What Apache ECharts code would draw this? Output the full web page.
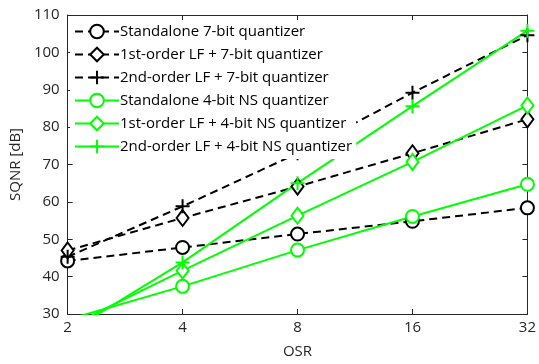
<!DOCTYPE html>
<html>
<head>
<meta charset="utf-8">
<script src="https://cdn.jsdelivr.net/npm/echarts@6/dist/echarts.min.js"></script>
<style>html,body{margin:0;padding:0;background:#fff;}#c{width:539px;height:364px;}</style>
</head>
<body>
<div id="c"></div>
<script>
var osr = [2, 4, 8, 16, 32];
var standalone7 = [44.2, 47.8, 51.4, 54.8, 58.4];
var lf1q7 = [47.0, 55.7, 64.1, 73.0, 82.1];
var lf2q7 = [45.3, 58.8, 73.0, 89.2, 104.6];
var standalone4 = [28.5, 37.4, 47.1, 56.1, 64.7];
var lf1q4 = [26.5, 41.6, 56.3, 70.7, 85.8];
var lf2q4 = [25.0, 43.8, 65.0, 85.6, 105.8];
var names = ['Standalone 7-bit quantizer', '1st-order LF + 7-bit quantizer', '2nd-order LF + 7-bit quantizer',
             'Standalone 4-bit NS quantizer', '1st-order LF + 4-bit NS quantizer', '2nd-order LF + 4-bit NS quantizer'];
var yTicks = [30, 110, 10];

var plusPath = 'path://M6,0 h2 v6 h6 v2 h-6 v6 h-2 v-6 h-6 v-2 h6 z';
function pts(arr) { return osr.map(function (x, i) { return [x, arr[i]]; }); }
function mk(name, arr, color, dashed, symbol, size) {
  var isPath = symbol.indexOf('path') === 0;
  return {
    name: name, type: 'line', data: pts(arr), symbol: symbol, symbolSize: size,
    showAllSymbol: true,
    lineStyle: { color: color, width: 2, type: dashed ? [8, 5] : 'solid' },
    itemStyle: isPath ? { color: color, borderWidth: 0 } : { color: color, borderColor: color, borderWidth: 1.8 },
    emphasis: { disabled: true }, animation: false, clip: true
  };
}
var axCol = '#262626';
var font = 'Open Sans';
var chart = echarts.init(document.getElementById('c'), null, { renderer: 'canvas' });
chart.setOption({
  animation: false,
  grid: { left: 66, right: 6, top: 15, bottom: 47 },
  xAxis: [{
    type: 'log', logBase: 2, min: 2, max: 32,
    name: 'OSR', nameLocation: 'middle', nameGap: 30,
    nameTextStyle: { color: axCol, fontSize: 15, fontFamily: font },
    axisLine: { lineStyle: { color: axCol, width: 1 } },
    axisTick: { inside: true, length: 5, lineStyle: { color: axCol } },
    axisLabel: { color: axCol, fontSize: 15, fontFamily: font, margin: 6 },
    splitLine: { show: false }, minorTick: { show: false }
  }, {
    type: 'log', logBase: 2, min: 2, max: 32, position: 'top',
    axisLine: { lineStyle: { color: axCol, width: 1 } },
    axisTick: { inside: true, length: 5, lineStyle: { color: axCol } },
    axisLabel: { show: false }, splitLine: { show: false }
  }],
  yAxis: [{
    type: 'value', min: yTicks[0], max: yTicks[1], interval: yTicks[2],
    name: 'SQNR [dB]', nameLocation: 'middle', nameGap: 42,
    nameTextStyle: { color: axCol, fontSize: 15, fontFamily: font },
    axisLine: { show: true, lineStyle: { color: axCol, width: 1 } },
    axisTick: { show: true, inside: true, length: 5, lineStyle: { color: axCol } },
    axisLabel: { color: axCol, fontSize: 15, fontFamily: font, margin: 8 },
    splitLine: { show: false }
  }, {
    type: 'value', min: yTicks[0], max: yTicks[1], interval: yTicks[2], position: 'right',
    axisLine: { show: true, lineStyle: { color: axCol, width: 1 } },
    axisTick: { show: true, inside: true, length: 5, lineStyle: { color: axCol } },
    axisLabel: { show: false }, splitLine: { show: false }
  }],
  legend: {
    orient: 'vertical', left: 70, top: 21, itemWidth: 44, itemHeight: 17, itemGap: 6,
    backgroundColor: '#fff', padding: [2, 4, 4, 4],
    textStyle: { color: '#000', fontSize: 15, fontFamily: font, padding: [0, 0, 0, -4], lineHeight: 17 },
    data: names
  },
  series: [
    mk(names[0], standalone7, '#000', true, 'emptyCircle', 13),
    mk(names[1], lf1q7, '#000', true, 'emptyDiamond', [12, 16]),
    mk(names[2], lf2q7, '#000', true, plusPath, 14),
    mk(names[3], standalone4, '#00ff00', false, 'emptyCircle', 13),
    mk(names[4], lf1q4, '#00ff00', false, 'emptyDiamond', [12, 16]),
    mk(names[5], lf2q4, '#00ff00', false, plusPath, 14)
  ]
});
</script>
</body>
</html>
